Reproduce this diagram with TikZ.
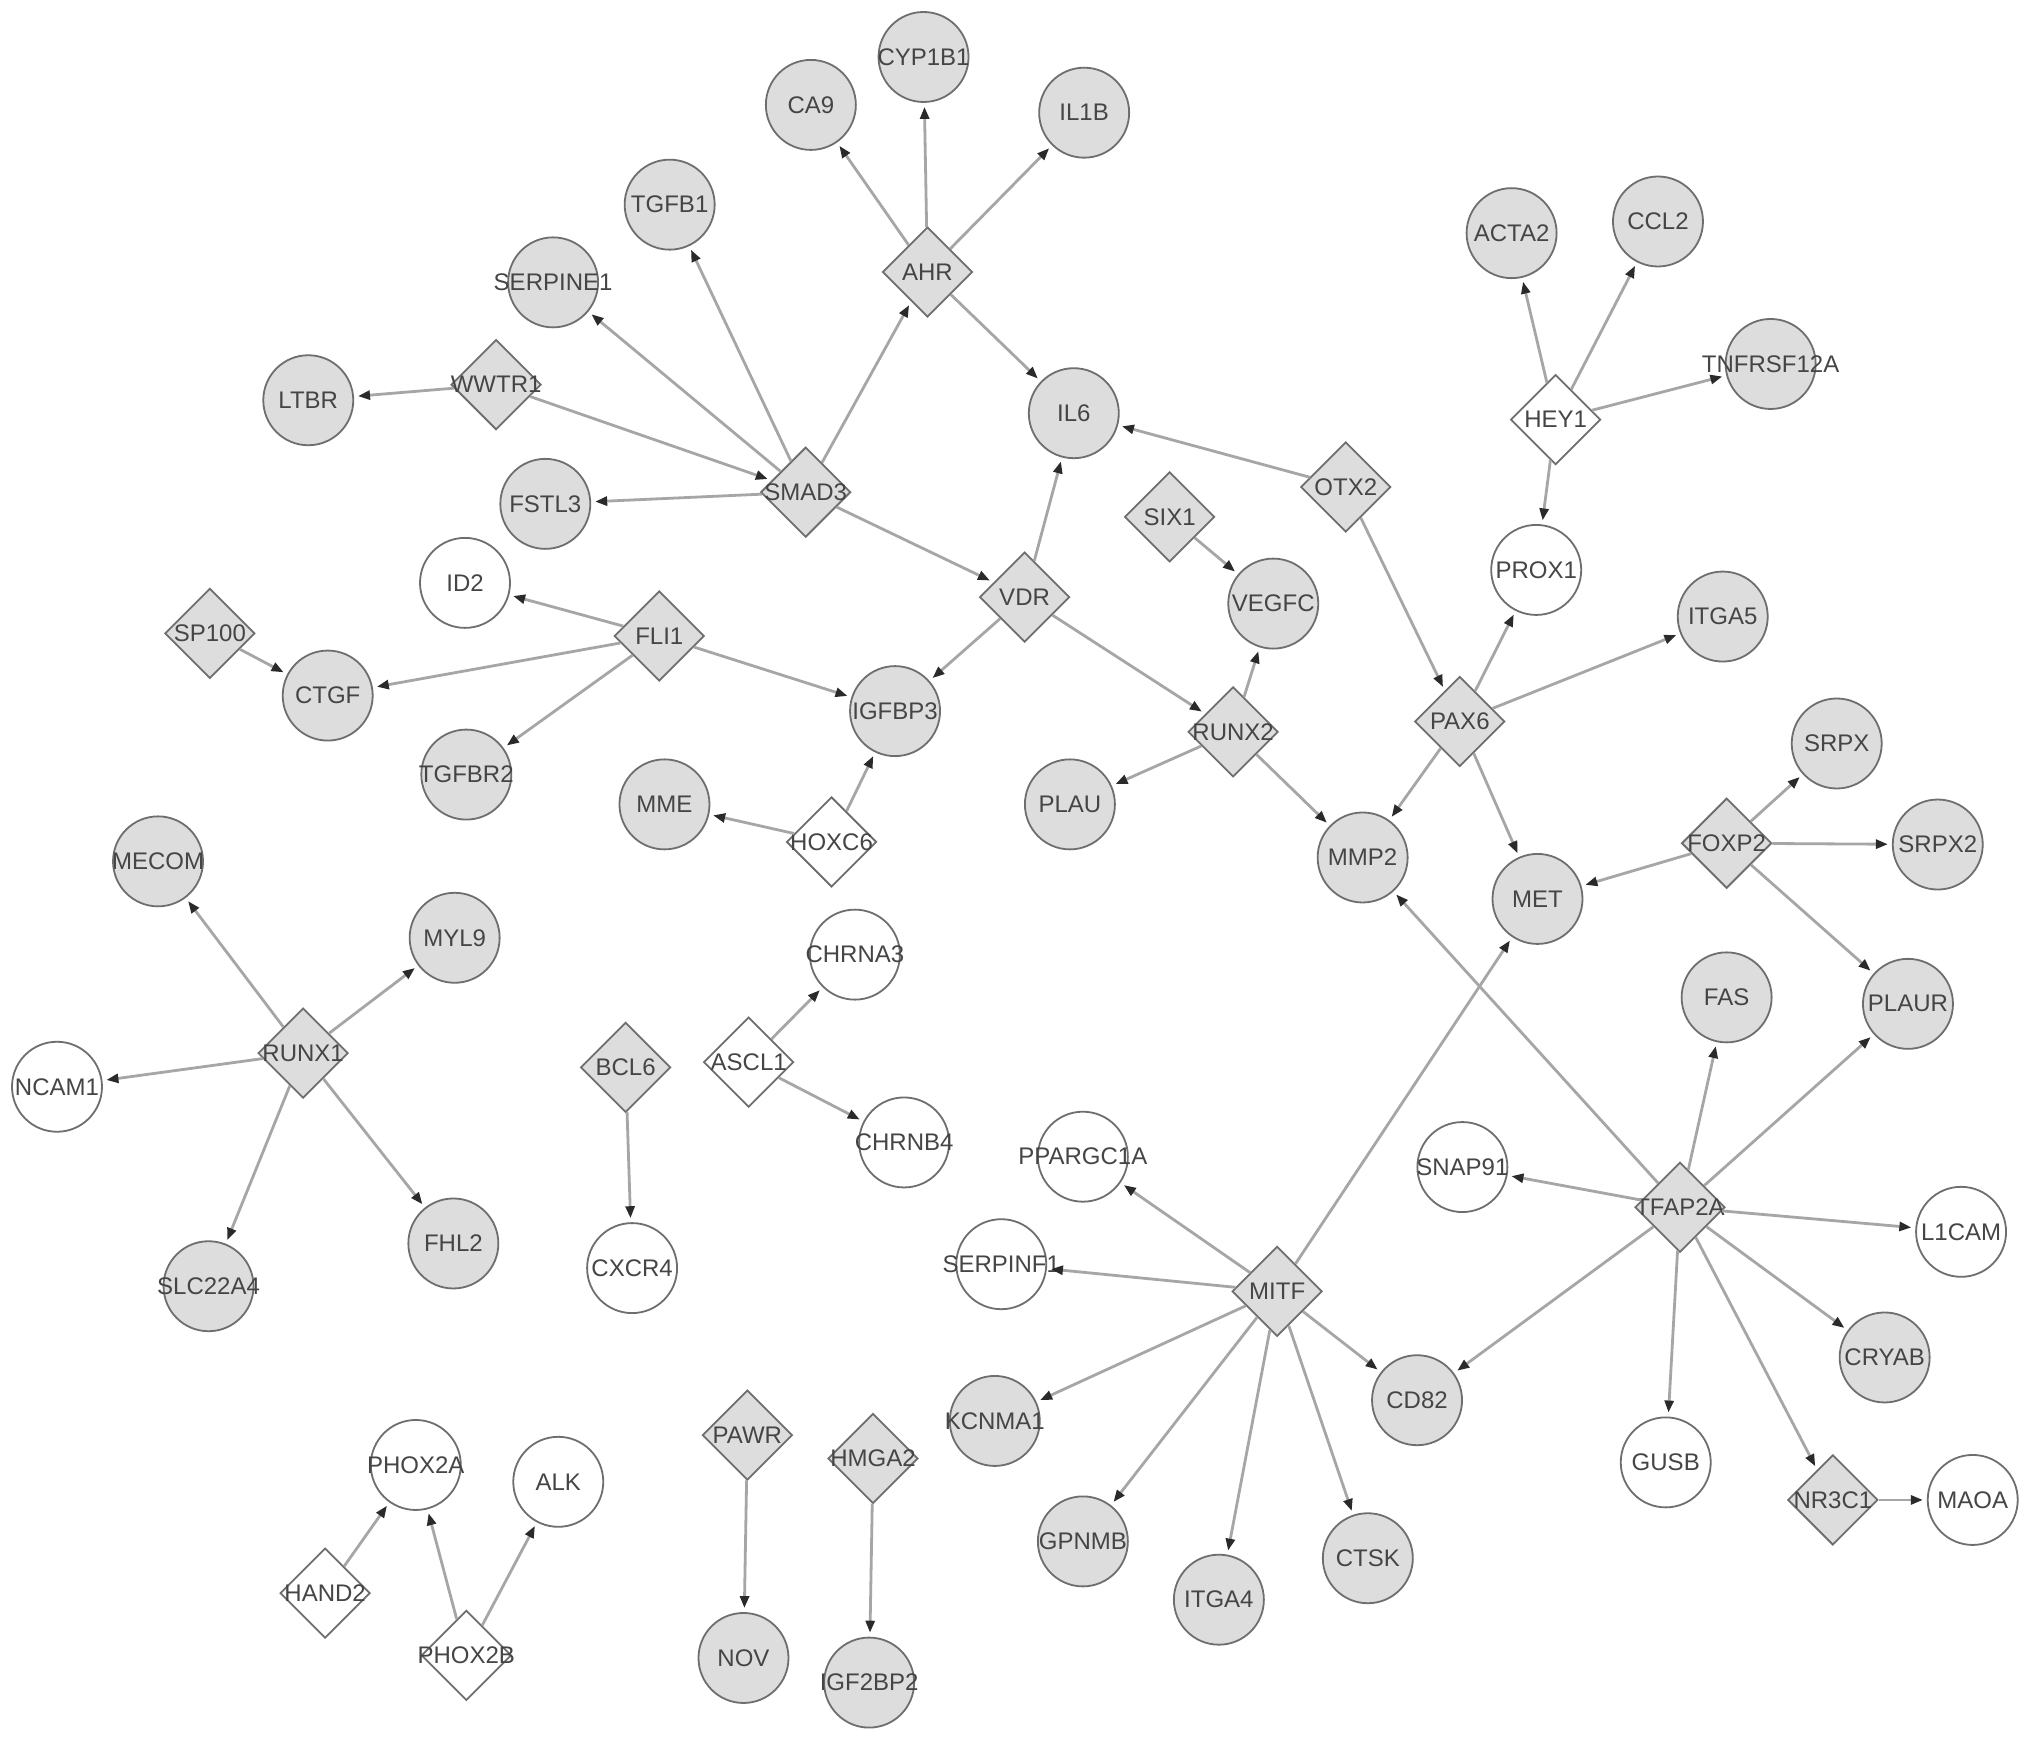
\documentclass[tikz,border=0pt]{standalone}
\usepackage{fontspec}
\setmainfont{Liberation Sans}
\usetikzlibrary{shapes.geometric,arrows.meta}
\definecolor{nodefill}{HTML}{DDDDDD}
\definecolor{nodeline}{HTML}{6E6E6E}
\definecolor{edgec}{HTML}{A6A6A6}
\definecolor{tipc}{HTML}{2A2A2A}
\definecolor{txt}{HTML}{454545}
\newcommand\gtxt[1]{\makebox[0pt][c]{#1}}
\tikzset{
  gc/.style={circle, draw=nodeline, fill=nodefill, line width=0.9pt, minimum size=45pt,
    inner sep=0pt, text=txt, font=\fontsize{12}{12}\selectfont},
  wc/.style={gc, fill=white},
  gd/.style={diamond, draw=nodeline, fill=nodefill, line width=0.9pt, minimum width=45pt,
    minimum height=45pt, inner sep=0pt, text=txt, font=\fontsize{12}{12}\selectfont},
  wd/.style={gd, fill=white},
  arr/.style={draw=edgec, line width=1.4pt, -{Triangle[length=6pt,width=4.5pt,color=tipc]}, shorten >=2pt}
}
\begin{document}
\begin{tikzpicture}[x=0.64765pt,y=-0.64765pt]
\fill[white] (0,0) rectangle (1568,1344);
\useasboundingbox (0,0) rectangle (1568,1344);
% nodes
\node[gc] (cyp1b1) at (713,44) {\gtxt{CYP1B1}};
\node[gc] (ca9) at (626,81) {\gtxt{CA9}};
\node[gc] (il1b) at (837,87) {\gtxt{IL1B}};
\node[gc] (tgfb1) at (517,158) {\gtxt{TGFB1}};
\node[gd] (ahr) at (716,210) {\gtxt{AHR}};
\node[gc] (serpine1) at (427,218) {\gtxt{SERPINE1}};
\node[gc] (acta2) at (1167,180) {\gtxt{ACTA2}};
\node[gc] (ccl2) at (1280,171) {\gtxt{CCL2}};
\node[gc] (tnfrsf) at (1367,281) {\gtxt{TNFRSF12A}};
\node[wd] (hey1) at (1201,324) {\gtxt{HEY1}};
\node[gc] (ltbr) at (238,309) {\gtxt{LTBR}};
\node[gd] (wwtr1) at (383,297) {\gtxt{WWTR1}};
\node[gc] (il6) at (829,319) {\gtxt{IL6}};
\node[gd] (smad3) at (622,380) {\gtxt{SMAD3}};
\node[gc] (fstl3) at (421,389) {\gtxt{FSTL3}};
\node[gd] (otx2) at (1039,376) {\gtxt{OTX2}};
\node[gd] (six1) at (903,399) {\gtxt{SIX1}};
\node[wc] (prox1) at (1186,440) {\gtxt{PROX1}};
\node[wc] (id2) at (359,450) {\gtxt{ID2}};
\node[gd] (vdr) at (791,461) {\gtxt{VDR}};
\node[gc] (vegfc) at (983,466) {\gtxt{VEGFC}};
\node[gc] (itga5) at (1330,476) {\gtxt{ITGA5}};
\node[gd] (sp100) at (162,489) {\gtxt{SP100}};
\node[gd] (fli1) at (509,491) {\gtxt{FLI1}};
\node[gc] (ctgf) at (253,537) {\gtxt{CTGF}};
\node[gc] (igfbp3) at (691,549) {\gtxt{IGFBP3}};
\node[gd] (runx2) at (952,565) {\gtxt{RUNX2}};
\node[gd] (pax6) at (1127,557) {\gtxt{PAX6}};
\node[gc] (srpx) at (1418,574) {\gtxt{SRPX}};
\node[gc] (tgfbr2) at (360,598) {\gtxt{TGFBR2}};
\node[gc] (plau) at (826,621) {\gtxt{PLAU}};
\node[gc] (mme) at (513,621) {\gtxt{MME}};
\node[wd] (hoxc6) at (642,650) {\gtxt{HOXC6}};
\node[gd] (foxp2) at (1333,651) {\gtxt{FOXP2}};
\node[gc] (srpx2) at (1496,652) {\gtxt{SRPX2}};
\node[gc] (mmp2) at (1052,662) {\gtxt{MMP2}};
\node[gc] (met) at (1187,694) {\gtxt{MET}};
\node[gc] (mecom) at (122,665) {\gtxt{MECOM}};
\node[gc] (myl9) at (351,724) {\gtxt{MYL9}};
\node[wc] (chrna3) at (660,737) {\gtxt{CHRNA3}};
\node[gc] (fas) at (1333,770) {\gtxt{FAS}};
\node[gc] (plaur) at (1473,775) {\gtxt{PLAUR}};
\node[gd] (runx1) at (234,813) {\gtxt{RUNX1}};
\node[wd] (ascl1) at (578,820) {\gtxt{ASCL1}};
\node[gd] (bcl6) at (483,824) {\gtxt{BCL6}};
\node[wc] (ncam1) at (44,839) {\gtxt{NCAM1}};
\node[wc] (chrnb4) at (698,882) {\gtxt{CHRNB4}};
\node[wc] (ppargc1a) at (836,893) {\gtxt{PPARGC1A}};
\node[wc] (snap91) at (1129,901) {\gtxt{SNAP91}};
\node[gd] (tfap2a) at (1297,932) {\gtxt{TFAP2A}};
\node[wc] (l1cam) at (1514,951) {\gtxt{L1CAM}};
\node[gc] (fhl2) at (350,960) {\gtxt{FHL2}};
\node[gc] (slc22a4) at (161,993) {\gtxt{SLC22A4}};
\node[wc] (cxcr4) at (488,979) {\gtxt{CXCR4}};
\node[wc] (serpinf1) at (773,976) {\gtxt{SERPINF1}};
\node[gd] (mitf) at (986,997) {\gtxt{MITF}};
\node[gc] (cd82) at (1094,1081) {\gtxt{CD82}};
\node[gc] (cryab) at (1455,1048) {\gtxt{CRYAB}};
\node[gc] (kcnma1) at (768,1097) {\gtxt{KCNMA1}};
\node[wc] (gusb) at (1286,1129) {\gtxt{GUSB}};
\node[gd] (nr3c1) at (1415,1158) {\gtxt{NR3C1}};
\node[wc] (maoa) at (1523,1158) {\gtxt{MAOA}};
\node[wc] (phox2a) at (321,1131) {\gtxt{PHOX2A}};
\node[wc] (alk) at (431,1144) {\gtxt{ALK}};
\node[gd] (pawr) at (577,1108) {\gtxt{PAWR}};
\node[gd] (hmga2) at (674,1126) {\gtxt{HMGA2}};
\node[gc] (gpnmb) at (836,1190) {\gtxt{GPNMB}};
\node[gc] (itga4) at (941,1235) {\gtxt{ITGA4}};
\node[gc] (ctsk) at (1056,1203) {\gtxt{CTSK}};
\node[wd] (hand2) at (251,1230) {\gtxt{HAND2}};
\node[wd] (phox2b) at (360,1278) {\gtxt{PHOX2B}};
\node[gc] (nov) at (574,1280) {\gtxt{NOV}};
\node[gc] (igf2bp2) at (671,1299) {\gtxt{IGF2BP2}};
% edges
\draw[arr] (ahr) -- (ca9);
\draw[arr] (ahr) -- (cyp1b1);
\draw[arr] (ahr) -- (il1b);
\draw[arr] (ahr) -- (il6);
\draw[arr] (smad3) -- (ahr);
\draw[arr] (smad3) -- (tgfb1);
\draw[arr] (smad3) -- (serpine1);
\draw[arr] (smad3) -- (fstl3);
\draw[arr] (smad3) -- (vdr);
\draw[arr] (wwtr1) -- (ltbr);
\draw[arr] (wwtr1) -- (smad3);
\draw[arr] (vdr) -- (il6);
\draw[arr] (vdr) -- (igfbp3);
\draw[arr] (vdr) -- (runx2);
\draw[arr] (otx2) -- (il6);
\draw[arr] (otx2) -- (pax6);
\draw[arr] (six1) -- (vegfc);
\draw[arr] (runx2) -- (vegfc);
\draw[arr] (runx2) -- (plau);
\draw[arr] (runx2) -- (mmp2);
\draw[arr] (pax6) -- (prox1);
\draw[arr] (pax6) -- (itga5);
\draw[arr] (pax6) -- (mmp2);
\draw[arr] (pax6) -- (met);
\draw[arr] (hey1) -- (acta2);
\draw[arr] (hey1) -- (ccl2);
\draw[arr] (hey1) -- (tnfrsf);
\draw[arr] (hey1) -- (prox1);
\draw[arr] (fli1) -- (id2);
\draw[arr] (fli1) -- (ctgf);
\draw[arr] (fli1) -- (tgfbr2);
\draw[arr] (fli1) -- (igfbp3);
\draw[arr] (sp100) -- (ctgf);
\draw[arr] (hoxc6) -- (mme);
\draw[arr] (hoxc6) -- (igfbp3);
\draw[arr] (foxp2) -- (srpx);
\draw[arr] (foxp2) -- (srpx2);
\draw[arr] (foxp2) -- (met);
\draw[arr] (foxp2) -- (plaur);
\draw[arr] (runx1) -- (mecom);
\draw[arr] (runx1) -- (myl9);
\draw[arr] (runx1) -- (ncam1);
\draw[arr] (runx1) -- (slc22a4);
\draw[arr] (runx1) -- (fhl2);
\draw[arr] (ascl1) -- (chrna3);
\draw[arr] (ascl1) -- (chrnb4);
\draw[arr] (bcl6) -- (cxcr4);
\draw[arr] (mitf) -- (ppargc1a);
\draw[arr] (mitf) -- (serpinf1);
\draw[arr] (mitf) -- (met);
\draw[arr] (mitf) -- (cd82);
\draw[arr] (mitf) -- (kcnma1);
\draw[arr] (mitf) -- (gpnmb);
\draw[arr] (mitf) -- (itga4);
\draw[arr] (mitf) -- (ctsk);
\draw[arr] (tfap2a) -- (mmp2);
\draw[arr] (tfap2a) -- (fas);
\draw[arr] (tfap2a) -- (plaur);
\draw[arr] (tfap2a) -- (snap91);
\draw[arr] (tfap2a) -- (l1cam);
\draw[arr] (tfap2a) -- (cd82);
\draw[arr] (tfap2a) -- (cryab);
\draw[arr] (tfap2a) -- (gusb);
\draw[arr] (tfap2a) -- (nr3c1);
\draw[arr] (nr3c1) -- (maoa);
\draw[arr] (hand2) -- (phox2a);
\draw[arr] (phox2b) -- (phox2a);
\draw[arr] (phox2b) -- (alk);
\draw[arr] (pawr) -- (nov);
\draw[arr] (hmga2) -- (igf2bp2);
\end{tikzpicture}
\end{document}
